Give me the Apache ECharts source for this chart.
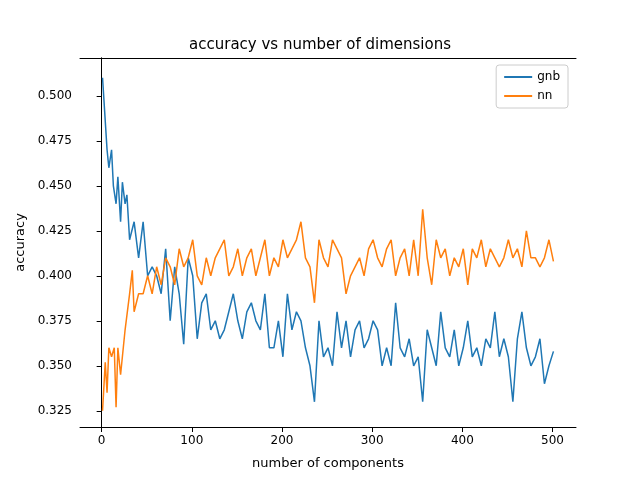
<!DOCTYPE html><html><head><meta charset="utf-8">
<script src="https://cdn.jsdelivr.net/npm/echarts@6/dist/echarts.min.js"></script>
<style>html,body{margin:0;background:#fff}#c{width:640px;height:480px}</style></head><body><div id="c"></div>
<script>
const gnbX=[1,3,6,8,11,13,16,18,21,23,26,28,31,36,41,46,51,56,61,66,71,76,81,86,91,96,101,106,111,116,121,126,131,136,141,146,151,156,161,166,171,176,181,186,191,196,201,206,211,216,221,226,231,236,241,246,251,256,261,266,271,276,281,286,291,296,301,306,311,316,321,326,331,336,341,346,351,356,361,366,371,376,381,386,391,396,401,406,411,416,421,426,431,436,441,446,451,456,461,466,471,476,481,486,491,496,501];
const gnb=[0.510,0.511,0.47,0.46,0.47,0.45,0.44,0.455,0.43,0.452,0.44,0.445,0.42,0.43,0.41,0.43,0.40,0.405,0.40,0.39,0.415,0.375,0.405,0.39,0.362,0.41,0.40,0.365,0.385,0.39,0.37,0.375,0.365,0.37,0.38,0.39,0.375,0.365,0.38,0.385,0.375,0.37,0.39,0.36,0.36,0.375,0.355,0.39,0.37,0.38,0.375,0.36,0.35,0.33,0.375,0.355,0.36,0.35,0.38,0.36,0.375,0.355,0.37,0.375,0.36,0.365,0.375,0.37,0.35,0.36,0.35,0.385,0.36,0.355,0.365,0.35,0.355,0.33,0.37,0.36,0.35,0.38,0.36,0.355,0.37,0.35,0.36,0.375,0.355,0.36,0.35,0.365,0.36,0.38,0.355,0.365,0.355,0.33,0.365,0.38,0.36,0.35,0.355,0.365,0.34,0.35,0.358];
const nnX=[1,4,6,8,11,14,16,18,21,26,31,34,36,41,46,51,56,61,66,71,76,81,86,91,96,101,106,111,116,121,126,131,136,141,146,151,156,161,166,171,176,181,186,191,196,201,206,211,216,221,226,231,236,241,246,251,256,261,266,271,276,281,286,291,296,301,306,311,316,321,326,331,336,341,346,351,356,361,366,371,376,381,386,391,396,401,406,411,416,421,426,431,436,441,446,451,456,461,466,471,476,481,486,491,496,501];
const nn=[0.325,0.352,0.335,0.36,0.355,0.36,0.327,0.36,0.345,0.37,0.39,0.403,0.38,0.39,0.39,0.40,0.39,0.405,0.395,0.41,0.405,0.395,0.415,0.405,0.41,0.42,0.40,0.395,0.41,0.40,0.41,0.415,0.42,0.40,0.405,0.415,0.40,0.41,0.415,0.40,0.41,0.42,0.40,0.41,0.405,0.42,0.41,0.415,0.42,0.43,0.41,0.405,0.385,0.42,0.41,0.405,0.42,0.415,0.41,0.39,0.40,0.405,0.41,0.40,0.415,0.42,0.41,0.405,0.415,0.42,0.40,0.41,0.415,0.40,0.42,0.40,0.437,0.41,0.395,0.42,0.41,0.415,0.40,0.41,0.405,0.415,0.395,0.415,0.41,0.42,0.405,0.415,0.41,0.405,0.41,0.42,0.41,0.415,0.405,0.425,0.41,0.41,0.405,0.41,0.42,0.408];
const xTicks=[0,100,200,300,400,500];
const yTicks=[0.325,0.35,0.375,0.4,0.425,0.45,0.475,0.5];
const font='DejaVu Sans';
const ch=echarts.init(document.getElementById('c'));
const spine={show:true,lineStyle:{color:'#000',width:1}};
ch.setOption({
 animation:false,textStyle:{fontFamily:font},
 title:{text:'accuracy vs number of dimensions',left:'center',top:33,textStyle:{fontFamily:font,fontSize:15,fontWeight:'normal',color:'#000'}},
 legend:{right:72,top:65,orient:'vertical',itemWidth:28,itemHeight:2,itemGap:7,borderColor:'#ccc',borderWidth:1,borderRadius:3,padding:[6,8],textStyle:{fontSize:12,color:'#000'},data:[{name:'gnb',icon:'rect'},{name:'nn',icon:'rect'}]},
 grid:{left:80,right:64,top:58,bottom:53},
 xAxis:[{type:'value',min:-24,max:526,name:'number of components',nameLocation:'middle',nameGap:30,nameTextStyle:{fontSize:13,color:'#000'},
  axisLine:{onZero:false,lineStyle:{color:'#000'}},splitLine:{show:false},
  axisTick:{customValues:xTicks,lineStyle:{color:'#000'}},axisLabel:{customValues:xTicks,color:'#000',fontSize:12}},
  {type:'value',position:'top',min:-24,max:526,axisLine:spine,axisTick:{show:false},axisLabel:{show:false},splitLine:{show:false}}],
 yAxis:[{type:'value',min:0.316,max:0.521,name:'accuracy',nameLocation:'middle',nameGap:52,nameTextStyle:{fontSize:13,color:'#000'},
  axisLine:{show:true,lineStyle:{color:'#000'}},splitLine:{show:false},
  axisTick:{show:true,customValues:yTicks,lineStyle:{color:'#000'}},axisLabel:{customValues:yTicks,color:'#000',fontSize:12,formatter:v=>v.toFixed(3)}},
  {type:'value',position:'right',min:0.316,max:0.521,axisLine:spine,axisTick:{show:false},axisLabel:{show:false},splitLine:{show:false}}],
 series:[
  {name:'gnb',type:'line',showSymbol:false,data:gnbX.map((x,i)=>[x,gnb[i]]),lineStyle:{color:'#1f77b4',width:1.5},itemStyle:{color:'#1f77b4'}},
  {name:'nn',type:'line',showSymbol:false,data:nnX.map((x,i)=>[x,nn[i]]),lineStyle:{color:'#ff7f0e',width:1.5},itemStyle:{color:'#ff7f0e'}}
 ]
});
</script></body></html>
